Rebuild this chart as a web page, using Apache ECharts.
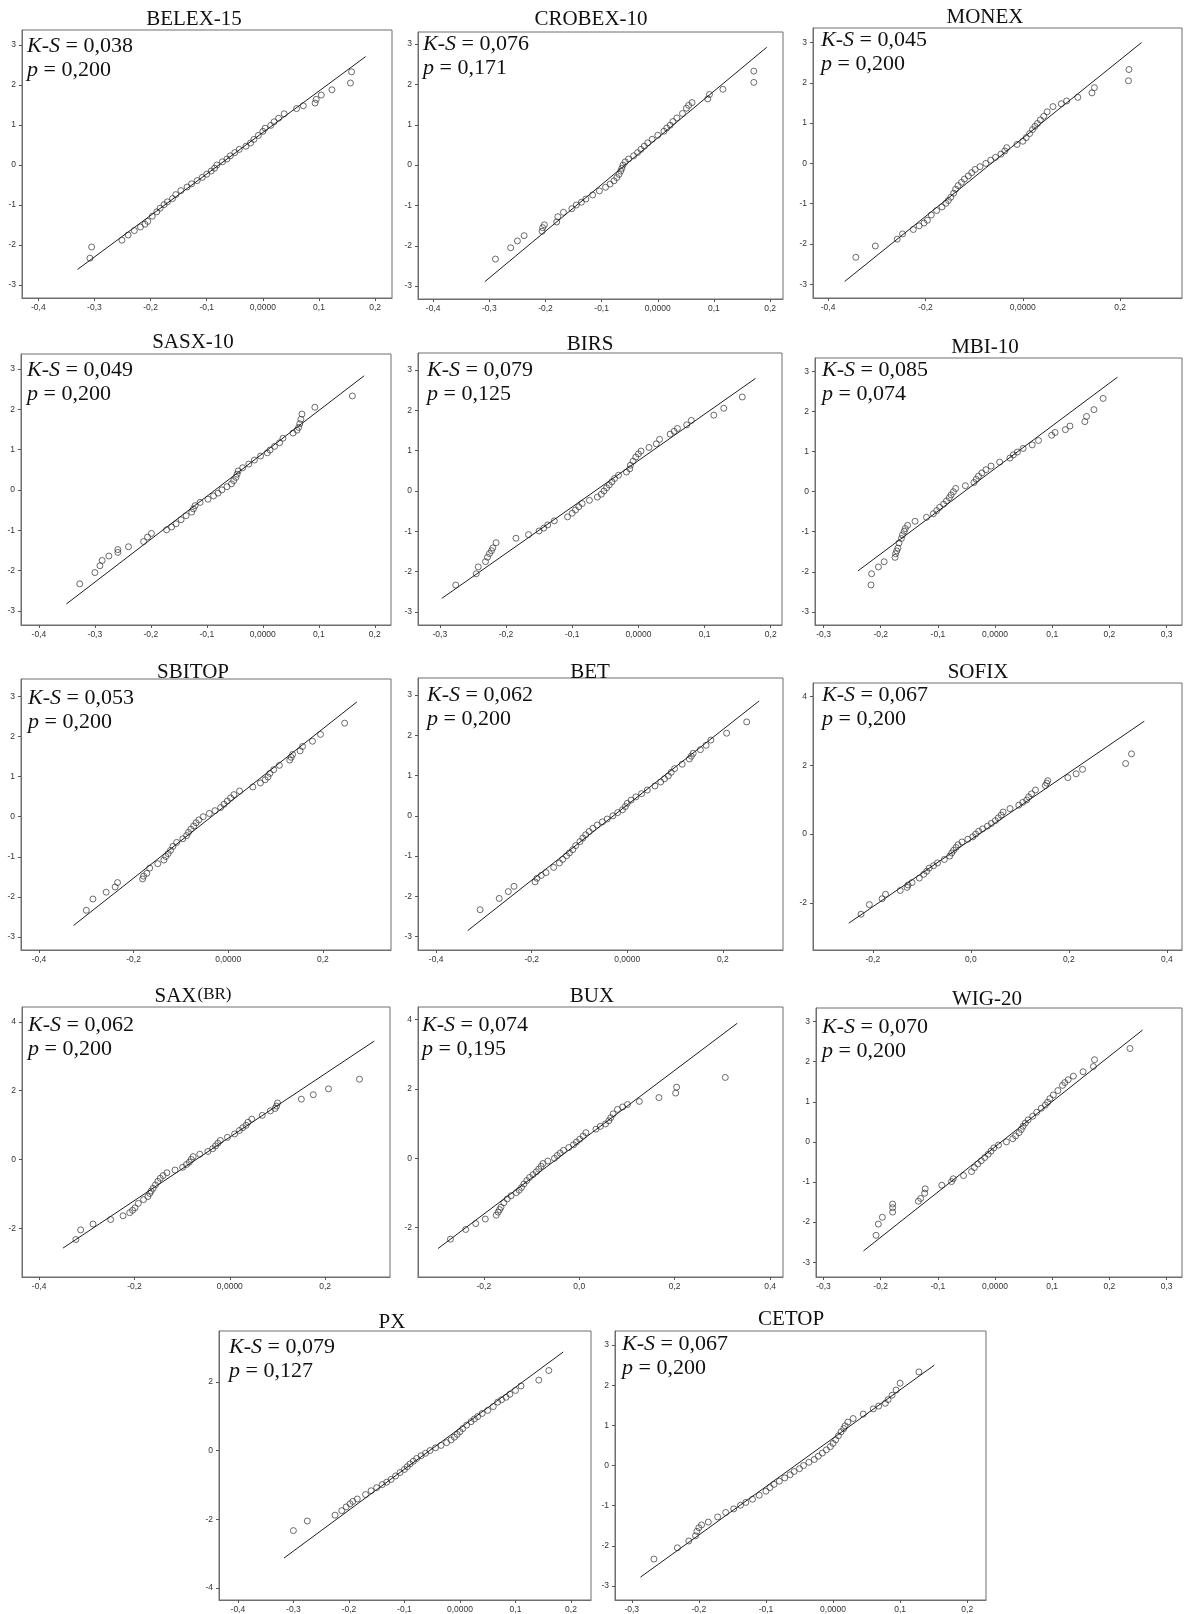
<!DOCTYPE html>
<html>
<head>
<meta charset="utf-8">
<title>Q-Q plots</title>
<script src="https://cdn.jsdelivr.net/npm/echarts@6/dist/echarts.min.js"></script>
<style>
  html, body { margin: 0; padding: 0; background: #fff; }
  #chart { width: 1184px; height: 1614px; }
</style>
</head>
<body>
<div id="chart"></div>
<script>
// expected normal values (same for every index)
const zq = [-2.33,-2.05,-1.88,-1.75,-1.64,-1.55,-1.48,-1.41,-1.28,-1.17,-1.08,-0.99,-0.92,-0.84,-0.74,-0.64,-0.55,-0.47,-0.39,-0.31,-0.23,-0.15,-0.08,0,
            0.08,0.15,0.23,0.31,0.39,0.47,0.55,0.64,0.74,0.84,0.92,0.99,1.08,1.17,1.28,1.41,1.48,1.55,1.64,1.75,1.88,2.05,2.33];

// observed values, one per expected value
const belex15 = [-0.308,-0.305,-0.251,-0.240,-0.229,-0.218,-0.210,-0.205,-0.197,-0.189,-0.183,-0.176,-0.170,-0.161,-0.155,-0.146,-0.135,-0.127,-0.117,-0.108,-0.100,-0.092,-0.086,-0.082,
                 -0.072,-0.064,-0.058,-0.050,-0.042,-0.030,-0.022,-0.016,-0.008,0.000,0.004,0.014,0.020,0.028,0.038,0.060,0.072,0.093,0.095,0.104,0.123,0.156,0.158];
const crobex10 = [-0.289,-0.262,-0.250,-0.238,-0.206,-0.205,-0.202,-0.180,-0.178,-0.168,-0.153,-0.145,-0.136,-0.128,-0.116,-0.104,-0.093,-0.085,-0.078,-0.073,-0.069,-0.066,-0.064,-0.062,
                  -0.058,-0.052,-0.043,-0.036,-0.030,-0.024,-0.018,-0.010,0.000,0.011,0.016,0.022,0.027,0.034,0.044,0.051,0.055,0.061,0.089,0.092,0.116,0.171,0.171];
const monex = [-0.343,-0.303,-0.258,-0.247,-0.225,-0.213,-0.203,-0.196,-0.188,-0.177,-0.166,-0.158,-0.153,-0.148,-0.142,-0.138,-0.133,-0.126,-0.120,-0.112,-0.105,-0.098,-0.088,-0.076,
               -0.066,-0.056,-0.045,-0.037,-0.033,-0.012,0.000,0.007,0.014,0.020,0.025,0.030,0.036,0.043,0.050,0.062,0.079,0.090,0.113,0.142,0.147,0.217,0.218];
const sasx10 = [-0.327,-0.300,-0.291,-0.287,-0.275,-0.259,-0.259,-0.240,-0.213,-0.206,-0.199,-0.172,-0.163,-0.155,-0.146,-0.137,-0.127,-0.124,-0.121,-0.112,-0.098,-0.088,-0.080,-0.073,
                -0.064,-0.056,-0.052,-0.048,-0.046,-0.044,-0.036,-0.025,-0.015,-0.004,0.008,0.013,0.021,0.030,0.036,0.054,0.061,0.064,0.066,0.068,0.070,0.093,0.160];
const birs = [-0.276,-0.245,-0.242,-0.231,-0.228,-0.225,-0.222,-0.220,-0.215,-0.185,-0.166,-0.150,-0.143,-0.137,-0.127,-0.107,-0.100,-0.095,-0.090,-0.085,-0.074,-0.062,-0.056,-0.052,
              -0.048,-0.044,-0.040,-0.036,-0.030,-0.018,-0.013,-0.012,-0.008,-0.004,0.000,0.004,0.016,0.027,0.032,0.048,0.054,0.059,0.073,0.080,0.114,0.129,0.157];
const mbi10 = [-0.217,-0.216,-0.204,-0.194,-0.175,-0.174,-0.172,-0.170,-0.168,-0.164,-0.162,-0.159,-0.157,-0.153,-0.140,-0.120,-0.108,-0.102,-0.097,-0.090,-0.085,-0.080,-0.077,-0.073,
               -0.069,-0.052,-0.037,-0.033,-0.029,-0.023,-0.016,-0.007,0.008,0.026,0.032,0.039,0.049,0.065,0.076,0.099,0.105,0.123,0.131,0.157,0.160,0.173,0.189];
const sbitop = [-0.300,-0.286,-0.258,-0.239,-0.234,-0.181,-0.179,-0.172,-0.166,-0.149,-0.136,-0.132,-0.127,-0.122,-0.117,-0.109,-0.096,-0.088,-0.084,-0.079,-0.073,-0.068,-0.062,-0.053,
                -0.040,-0.028,-0.016,-0.009,-0.002,0.005,0.012,0.024,0.052,0.068,0.078,0.084,0.088,0.096,0.108,0.130,0.133,0.136,0.152,0.157,0.178,0.195,0.246];
const bet = [-0.308,-0.268,-0.249,-0.237,-0.193,-0.189,-0.180,-0.170,-0.154,-0.142,-0.135,-0.127,-0.121,-0.114,-0.108,-0.099,-0.093,-0.087,-0.080,-0.072,-0.063,-0.052,-0.042,-0.030,
             -0.020,-0.010,-0.004,0.000,0.008,0.018,0.030,0.042,0.058,0.070,0.078,0.086,0.092,0.099,0.115,0.130,0.134,0.138,0.153,0.165,0.175,0.208,0.250];
const sofix = [-0.224,-0.207,-0.181,-0.174,-0.144,-0.130,-0.128,-0.120,-0.105,-0.096,-0.090,-0.085,-0.076,-0.068,-0.054,-0.043,-0.039,-0.035,-0.030,-0.026,-0.018,-0.006,0.004,0.010,
               0.016,0.024,0.034,0.042,0.050,0.056,0.062,0.066,0.080,0.098,0.106,0.114,0.118,0.124,0.132,0.152,0.155,0.157,0.198,0.215,0.228,0.316,0.328];
const saxbr = [-0.323,-0.313,-0.287,-0.250,-0.224,-0.210,-0.204,-0.199,-0.192,-0.181,-0.172,-0.168,-0.165,-0.161,-0.156,-0.151,-0.146,-0.140,-0.132,-0.115,-0.099,-0.091,-0.085,-0.081,
               -0.077,-0.063,-0.046,-0.036,-0.030,-0.025,-0.020,-0.005,0.010,0.020,0.027,0.034,0.038,0.046,0.068,0.085,0.095,0.098,0.100,0.150,0.175,0.207,0.272];
const bux = [-0.270,-0.238,-0.217,-0.197,-0.174,-0.170,-0.167,-0.164,-0.158,-0.151,-0.143,-0.132,-0.126,-0.121,-0.116,-0.110,-0.104,-0.097,-0.090,-0.085,-0.080,-0.076,-0.066,-0.052,
             -0.046,-0.040,-0.033,-0.022,-0.012,-0.006,0.001,0.008,0.014,0.035,0.044,0.055,0.062,0.066,0.071,0.080,0.091,0.101,0.126,0.167,0.202,0.204,0.306];
const wig20 = [-0.208,-0.204,-0.197,-0.179,-0.179,-0.179,-0.134,-0.130,-0.123,-0.122,-0.093,-0.076,-0.073,-0.055,-0.041,-0.036,-0.030,-0.024,-0.018,-0.012,-0.007,-0.002,0.006,0.020,
               0.031,0.036,0.042,0.046,0.049,0.053,0.058,0.066,0.073,0.081,0.088,0.092,0.096,0.102,0.110,0.118,0.122,0.128,0.137,0.154,0.172,0.174,0.236];
const px = [-0.300,-0.275,-0.225,-0.213,-0.205,-0.198,-0.193,-0.185,-0.170,-0.160,-0.150,-0.140,-0.132,-0.124,-0.116,-0.108,-0.100,-0.095,-0.090,-0.084,-0.078,-0.070,-0.062,-0.054,
            -0.044,-0.034,-0.024,-0.016,-0.010,-0.005,0.000,0.005,0.012,0.020,0.026,0.032,0.040,0.050,0.060,0.068,0.075,0.083,0.090,0.100,0.110,0.142,0.160];
const cetop = [-0.267,-0.232,-0.215,-0.205,-0.203,-0.200,-0.196,-0.186,-0.172,-0.160,-0.148,-0.138,-0.130,-0.120,-0.110,-0.100,-0.094,-0.088,-0.080,-0.072,-0.064,-0.058,-0.050,-0.044,
               -0.036,-0.028,-0.022,-0.016,-0.010,-0.004,0.000,0.004,0.008,0.012,0.016,0.018,0.022,0.030,0.045,0.060,0.068,0.078,0.082,0.088,0.094,0.100,0.128];

const observed = [belex15, crobex10, monex, sasx10, birs, mbi10, sbitop, bet, sofix, saxbr, bux, wig20, px, cetop];

const indexNames = ['BELEX-15','CROBEX-10','MONEX','SASX-10','BIRS','MBI-10','SBITOP','BET','SOFIX','SAX(BR)','BUX','WIG-20','PX','CETOP'];
const ksStat = ['0,038','0,076','0,045','0,049','0,079','0,085','0,053','0,062','0,067','0,062','0,074','0,070','0,079','0,067'];
const pValue = ['0,200','0,171','0,200','0,200','0,125','0,074','0,200','0,200','0,200','0,200','0,195','0,200','0,127','0,200'];

// reference line: x1, y1, x2, y2
const refLines = [
  [-0.330,-2.61,0.183,2.71], [-0.308,-2.89,0.194,2.92], [-0.366,-2.93,0.244,3.00],
  [-0.351,-2.83,0.181,2.83], [-0.297,-2.66,0.177,2.79], [-0.240,-1.98,0.214,2.86],
  [-0.327,-2.71,0.272,2.86], [-0.334,-2.85,0.276,2.85], [-0.249,-2.59,0.354,3.28],
  [-0.350,-2.58,0.303,3.44], [-0.296,-2.60,0.331,3.89], [-0.230,-2.72,0.258,2.79],
  [-0.317,-3.13,0.186,2.87], [-0.287,-2.78,0.151,2.50]
];

// tick values
const tA = [-0.4,-0.3,-0.2,-0.1,0,0.1,0.2];
const tB = [-0.4,-0.2,0,0.2];
const tC = [-0.3,-0.2,-0.1,0,0.1,0.2];
const tD = [-0.3,-0.2,-0.1,0,0.1,0.2,0.3];
const tE = [-0.2,0,0.2,0.4];
const xTicks = [tA, tA, tB, tA, tC, tD, tB, tB, tE, tB, tE, tD, tA, tC];
const zeroLabel = ['0,0000','0,0000','0,0000','0,0000','0,0000','0,0000','0,0000','0,0000','0,0','0,0000','0,0','0,0000','0,0000','0,0000'];
const y3 = [-3,-2,-1,0,1,2,3];
const y4 = [-2,0,2,4];
const y5 = [-4,-2,0,2];
const yTicks = [y3, y3, y3, y3, y3, y3, y3, y3, y4, y4, y4, y3, y5, y3];

// axis ranges
const xRange = [[-0.429,0.230],[-0.427,0.223],[-0.431,0.327],[-0.432,0.229],[-0.333,0.217],[-0.315,0.327],[-0.438,0.344],
                [-0.438,0.326],[-0.322,0.431],[-0.436,0.336],[-0.338,0.427],[-0.313,0.327],[-0.434,0.236],[-0.325,0.228]];
const yRange = [[-3.325,3.375],[-3.32,3.30],[-3.34,3.36],[-3.35,3.37],[-3.32,3.42],[-3.33,3.34],[-3.32,3.43],
                [-3.33,3.42],[-3.37,4.39],[-3.42,4.43],[-3.42,4.36],[-3.37,3.34],[-4.35,3.48],[-3.35,3.35]];

// layout: plot box [left, top, width, height], title centre, K-S text corner
const boxes = [[22,30,370,268],[418,32,365,267],[813,28,369,270],[21,354,370,271],[418,353,364,272],[815,358,367,267],
               [21,679,370,271],[418,678,365,272],[813,683,369,267],[22,1007,368,270],[418,1007,365,270],[816,1008,366,269],
               [219,1331,372,270],[615,1331,371,270]];
const titlePos = [[194,20],[591,20],[985,18],[193,343],[590,345],[985,348],[193,673],[590,673],[978,673],
                  [193,997],[592,997],[987,1000],[392,1323],[791,1320]];
const ksPos = [[27,39],[423,37],[821,33],[27,363],[427,363],[822,363],[28,691],[427,688],[822,688],
               [28,1018],[422,1018],[822,1020],[229,1340],[622,1337]];

const serif = 'Liberation Serif';
const sans = 'Liberation Sans';

const grids = [], xAxes = [], yAxes = [], series = [], titles = [];

indexNames.forEach((name, i) => {
  const b = boxes[i];
  grids.push({left: b[0], top: b[1], width: b[2], height: b[3], show: true, borderColor: '#6e6e6e', borderWidth: 1});

  xAxes.push({
    gridIndex: i, type: 'value', min: xRange[i][0], max: xRange[i][1],
    axisLine: {show: true, onZero: false, lineStyle: {color: '#6e6e6e'}},
    axisTick: {show: true, length: 3, customValues: xTicks[i], lineStyle: {color: '#555'}},
    axisLabel: {
      customValues: xTicks[i], margin: 5, fontSize: 8.5, color: '#333', fontFamily: sans,
      formatter: v => Math.abs(v) < 1e-9 ? zeroLabel[i] : (v < 0 ? '-' : '') + Math.abs(v).toFixed(1).replace('.', ',')
    },
    splitLine: {show: false}
  });

  yAxes.push({
    gridIndex: i, type: 'value', min: yRange[i][0], max: yRange[i][1],
    axisLine: {show: true, onZero: false, lineStyle: {color: '#6e6e6e'}},
    axisTick: {show: true, length: 3, customValues: yTicks[i], lineStyle: {color: '#555'}},
    axisLabel: {customValues: yTicks[i], margin: 6, fontSize: 8.5, color: '#333', fontFamily: sans},
    splitLine: {show: false}
  });

  const r = refLines[i];
  series.push({
    type: 'line', xAxisIndex: i, yAxisIndex: i, symbol: 'none', silent: true,
    data: [[r[0], r[1]], [r[2], r[3]]],
    lineStyle: {color: '#1e1e1e', width: 1}
  });
  series.push({
    type: 'scatter', xAxisIndex: i, yAxisIndex: i, symbol: 'circle', symbolSize: 6,
    data: zq.map((z, k) => [observed[i][k], z]),
    itemStyle: {color: 'rgba(0,0,0,0)', borderColor: '#333', borderWidth: 0.9}
  });

  const tp = titlePos[i];
  const isSax = name === 'SAX(BR)';
  titles.push({
    text: isSax ? '{a|SAX}{b|(BR)}' : name,
    left: tp[0], top: tp[1] - 11, textAlign: 'center', padding: 0,
    textStyle: {
      fontFamily: serif, fontSize: 21, fontWeight: 'normal', color: '#111',
      rich: {a: {fontFamily: serif, fontSize: 21, color: '#111'},
             b: {fontFamily: serif, fontSize: 17, color: '#111', verticalAlign: 'top', padding: [0, 0, 0, 1]}}
    }
  });

  const kp = ksPos[i];
  titles.push({
    text: '{i|K-S} = ' + ksStat[i] + '\n{i|p} = ' + pValue[i],
    left: kp[0], top: kp[1] - 5, padding: 0,
    textStyle: {
      fontFamily: serif, fontSize: 22, fontWeight: 'normal', color: '#111', lineHeight: 24,
      rich: {i: {fontFamily: serif, fontSize: 22, fontStyle: 'italic', color: '#111', lineHeight: 24}}
    }
  });
});

const chart = echarts.init(document.getElementById('chart'));
chart.setOption({
  animation: false,
  backgroundColor: '#fff',
  title: titles,
  grid: grids,
  xAxis: xAxes,
  yAxis: yAxes,
  series: series
});
</script>
</body>
</html>
